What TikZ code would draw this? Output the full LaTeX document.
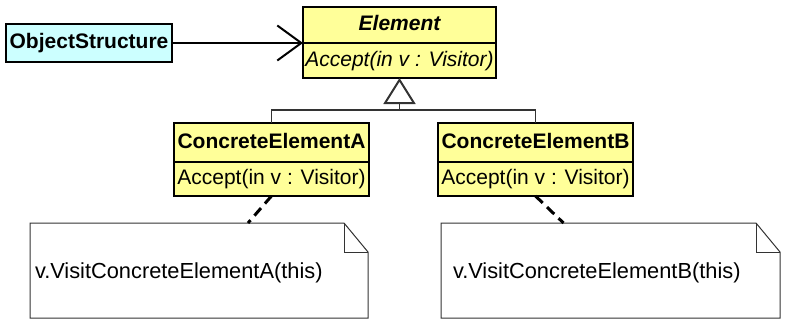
\documentclass[tikz,border=0pt]{standalone}
\usepackage{fontspec}
\setmainfont{Liberation Sans}
\usetikzlibrary{positioning, arrows.meta}

\definecolor{classyellow}{HTML}{FFFF99}
\definecolor{structcyan}{HTML}{CCFFFF}

\begin{document}
\begin{tikzpicture}[
        x=1pt, y=-1pt,
        font=\fontsize{21}{25}\selectfont,
        cls/.style={
            draw=black,
            line width=2pt,
            fill=classyellow,
            inner sep=0pt,
            outer sep=0pt,
            text height=15pt,
            text depth=4pt
        },
        note/.style={
            minimum height=95pt,
            inner ysep=0pt,
            outer sep=0pt,
            align=left,
            font=\fontsize{21.8}{25}\selectfont
        },
        noteline/.style={draw=black!80, fill=white, line width=1pt},
        assoc/.style={-{Straight Barb[length=24pt, width=35pt, line width=2pt]}, line width=1.3pt},
        inherit/.style={line width=1.3pt, draw=black!80},
        anchorline/.style={line width=3pt, dash pattern=on 10pt off 6pt}
    ]

    \useasboundingbox (0,0) rectangle (788,324);

    % classes
    \node[cls, fill=structcyan, minimum width=166pt, minimum height=38pt] (objs) at (89,43)
        {\bfseries ObjectStructure};

    \node[cls, minimum width=193pt, minimum height=36pt] (elemT) at (399.5,25)
        {\bfseries\itshape Element};
    \node[cls, minimum width=193pt, minimum height=35pt, below=0pt of elemT] (elemM)
        {\itshape Accept(in v : Visitor)};

    \node[cls, minimum width=195pt, minimum height=39pt] (ceAT) at (271.5,142.5)
        {\bfseries ConcreteElementA};
    \node[cls, minimum width=195pt, minimum height=34pt, below=0pt of ceAT] (ceAM)
        {Accept(in v : Visitor)};

    \node[cls, minimum width=195pt, minimum height=39pt] (ceBT) at (535.5,142.5)
        {\bfseries ConcreteElementB};
    \node[cls, minimum width=195pt, minimum height=34pt, below=0pt of ceBT] (ceBM)
        {Accept(in v : Visitor)};

    % notes with a folded corner
    \node[note, minimum width=338pt, inner xsep=5pt, text width=328pt] (noteA) at (199,270.5) {};
    \node[note, minimum width=339pt, inner xsep=12pt, text width=315pt] (noteB) at (610.5,270.5) {};
    \foreach \n in {noteA, noteB} {
        \draw[noteline] (\n.south west) -- (\n.north west) -- ([xshift=-24pt]\n.north east)
            -- ([yshift=-29pt]\n.north east) -- (\n.south east) -- cycle;
        \draw[noteline, fill=none] ([xshift=-24pt]\n.north east) -- ([xshift=-24pt, yshift=-29pt]\n.north east)
            -- ([yshift=-29pt]\n.north east);
    }
    \node[note, minimum width=338pt, inner xsep=5pt, text width=328pt] at ([yshift=-2pt]noteA) {v.VisitConcreteElementA(this)};
    \node[note, minimum width=339pt, inner xsep=12pt, text width=315pt] at ([yshift=-2pt]noteB) {v.VisitConcreteElementB(this)};

    % connectors
    \draw[assoc] (objs.east) -- (elemT.south west);

    \coordinate (fork) at (399.5,110);
    \draw[inherit, -{Triangle[open, length=26pt, width=32pt, line width=2pt]}] (fork) -- (elemM.south);
    \draw[inherit] (ceAT.north) |- (fork) -| (ceBT.north);

    \draw[anchorline] (ceAM.south) -- ([xshift=49pt]noteA.north);
    \draw[anchorline] (ceBM.south) -- ([xshift=-47pt]noteB.north);

    \end{tikzpicture}
\end{document}
